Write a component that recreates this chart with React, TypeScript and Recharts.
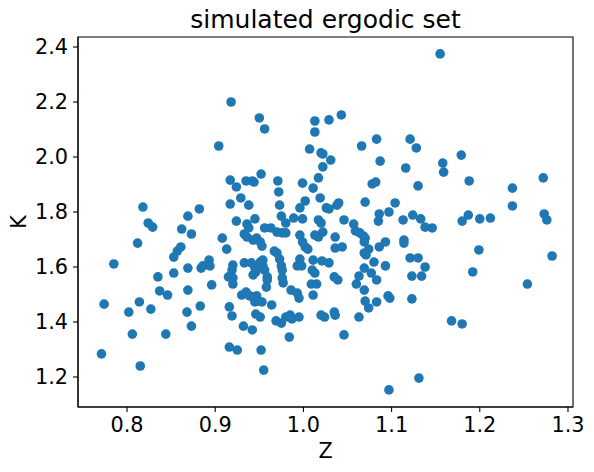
import { ScatterChart, Scatter, XAxis, YAxis, ReferenceArea } from 'recharts'

// Z values (x) of the simulated ergodic set
const zValues = [
  0.818, 0.824, 0.829, 0.812, 0.785, 0.835, 0.853, 0.853, 0.857, 0.861,
  0.862, 0.873, 0.869, 0.882, 0.869, 0.884, 0.774, 0.771, 0.802, 0.806,
  0.814, 0.815, 0.827, 0.837, 0.846, 0.844, 0.869, 0.868, 0.873, 0.883,
  0.918, 0.950, 0.956, 0.904, 1.013, 1.013, 1.007, 1.020, 1.022, 1.031,
  1.029, 1.043, 1.066, 1.083, 1.121, 1.128, 1.087, 1.155, 1.158, 1.159,
  1.179,
  1.188, 1.237, 1.272, 1.237, 1.187, 1.180, 1.200, 1.212, 1.273, 1.276,
  1.199, 1.192, 1.282, 1.254, 1.168, 1.180,
  1.131, 1.097, 1.046, 1.063, 1.123, 1.096, 1.098, 1.083, 1.074, 1.070,
  1.069, 1.060, 1.035, 1.036, 1.024, 1.039, 1.083,
  0.896, 0.920, 0.916, 0.919, 0.932, 0.942, 0.916, 0.925, 0.952, 0.955,
  0.984, 0.930, 0.935, 0.939, 0.943, 0.947, 0.949, 0.953, 0.945, 0.958,
  0.964, 0.946, 0.951, 0.969, 0.975, 0.980, 0.985, 0.987, 0.995, 0.977,
  0.986, 0.993, 0.995, 1.011, 1.009, 1.015, 1.020,
  0.917, 0.924, 0.935, 0.942, 0.944, 0.952, 0.971, 0.972, 0.973, 0.999,
  1.011, 1.017, 1.022, 0.917, 0.929, 0.938, 0.924, 0.936, 0.938, 0.945,
  0.956, 0.963, 0.970, 0.976, 0.980, 0.975, 0.980, 0.989, 0.999, 0.996,
  1.002, 1.019, 1.026, 1.017, 1.020, 1.013, 1.017, 1.022, 0.996, 0.999,
  1.002, 1.005, 1.011, 1.010, 1.021, 0.996, 0.993, 0.998, 0.908, 0.913,
  0.933, 0.936, 0.943, 0.947, 0.951, 0.953, 0.967, 0.970, 0.893, 0.886,
  0.894, 0.920, 0.919, 0.933, 0.941, 0.945, 0.946, 0.951, 0.954, 0.954,
  0.956, 0.973, 0.975, 0.976, 0.915, 0.920, 0.943, 0.959, 0.959, 0.976, 1.013,
  1.116, 1.078, 1.082, 1.130, 1.070, 1.104, 1.040, 1.029, 1.038, 1.086,
  1.085, 1.097, 1.124, 1.113, 1.133, 1.138, 1.146, 1.046, 1.057, 1.059,
  1.064, 1.068, 1.070, 1.069, 1.036, 1.036, 1.044, 1.093, 1.086, 1.114,
  1.114, 1.074, 1.069, 1.071, 1.080, 1.093, 1.121, 1.130, 1.138, 1.134,
  1.123, 1.029, 1.035, 1.069, 1.077, 1.063,
]

// K values (y), same order as zValues
const kValues = [
  1.818, 1.760, 1.745, 1.687, 1.611, 1.564, 1.578, 1.636, 1.658, 1.673,
  1.738, 1.720, 1.785, 1.811, 1.596, 1.596, 1.465, 1.284, 1.436, 1.356,
  1.473, 1.240, 1.447, 1.513, 1.498, 1.356, 1.516, 1.436, 1.385, 1.458,
  2.200, 2.142, 2.102, 2.040, 2.131, 2.091, 2.029, 2.015, 2.011, 1.989,
  2.135, 2.153, 2.040, 2.065, 2.065, 2.033, 1.985, 2.375, 1.978, 1.945,
  2.007,
  1.913, 1.887, 1.924, 1.822, 1.789, 1.767, 1.775, 1.778, 1.793, 1.771,
  1.662, 1.582, 1.640, 1.538, 1.404, 1.393,
  1.196, 1.153, 1.353, 1.418, 1.484, 1.495, 1.487, 1.473, 1.451, 1.476,
  1.516, 1.538, 1.436, 1.425, 1.418, 1.553, 1.553,
  1.535, 1.538, 1.455, 1.422, 1.385, 1.371, 1.309, 1.298, 1.298, 1.225,
  1.345, 1.498, 1.509, 1.495, 1.491, 1.495, 1.476, 1.473, 1.473, 1.527,
  1.462, 1.429, 1.418, 1.404, 1.396, 1.418, 1.425, 1.411, 1.418, 1.542,
  1.516, 1.505, 1.487, 1.498, 1.538, 1.538, 1.425,
  1.916, 1.891, 1.913, 1.913, 1.909, 1.938, 1.913, 1.873, 1.825, 1.905,
  1.887, 1.924, 1.964, 1.829, 1.851, 1.825, 1.767, 1.756, 1.742, 1.775,
  1.742, 1.742, 1.727, 1.724, 1.724, 1.785, 1.760, 1.778, 1.775, 1.815,
  1.840, 1.851, 1.815, 1.771, 1.760, 1.716, 1.709, 1.727, 1.716, 1.691,
  1.673, 1.665, 1.625, 1.589, 1.622, 1.629, 1.604, 1.604, 1.705, 1.665,
  1.720, 1.709, 1.698, 1.705, 1.691, 1.676, 1.658, 1.651, 1.625, 1.604,
  1.604, 1.607, 1.589, 1.615, 1.615, 1.596, 1.582, 1.618, 1.625, 1.604,
  1.589, 1.629, 1.604, 1.589, 1.564, 1.560, 1.571, 1.564, 1.553, 1.560, 1.578,
  1.960, 1.902, 1.909, 1.895, 1.836, 1.833, 1.833, 1.811, 1.825, 1.793,
  1.767, 1.800, 1.789, 1.771, 1.775, 1.745, 1.742, 1.771, 1.756, 1.731,
  1.724, 1.713, 1.705, 1.691, 1.709, 1.669, 1.673, 1.691, 1.673, 1.698,
  1.687, 1.665, 1.651, 1.644, 1.618, 1.604, 1.633, 1.633, 1.600, 1.567,
  1.567, 1.615, 1.564, 1.596, 1.578, 1.567,
]

const zTicks = [0.8, 0.9, 1.0, 1.1, 1.2, 1.3]
const kTicks = [1.2, 1.4, 1.6, 1.8, 2.0, 2.2, 2.4]

const zDomain: [number, number] = [0.7444, 1.3057]
const kDomain: [number, number] = [1.0909, 2.4364]

const BLUE = '#1f77b4'
const FONT = '"DejaVu Sans", sans-serif'

const Dot = (props: { cx?: number; cy?: number }) => {
  if (props.cx == null || props.cy == null) return null
  return <circle cx={props.cx} cy={props.cy} r={4.8} fill={BLUE} />
}

export default function App() {
  const points = zValues.map((z, i) => ({ z, k: kValues[i] }))
  const tickStyle = { fontSize: 20.8, fill: '#000', fontFamily: FONT }

  return (
    <div style={{ position: 'absolute', left: 0, top: 0, width: 594, height: 472, background: '#fff' }}>
      <ScatterChart width={594} height={472} margin={{ top: 37, right: 21, bottom: 0, left: 0 }}>
        <XAxis
          type="number"
          dataKey="z"
          domain={zDomain}
          ticks={zTicks}
          allowDataOverflow
          height={65}
          tickFormatter={(v: number) => v.toFixed(1)}
          tick={tickStyle}
          tickSize={5}
          tickMargin={5}
          stroke="#000"
          axisLine={{ stroke: '#000', strokeWidth: 1.1 }}
          tickLine={{ stroke: '#000', strokeWidth: 1.1 }}
        />
        <YAxis
          type="number"
          dataKey="k"
          domain={kDomain}
          ticks={kTicks}
          allowDataOverflow
          width={78}
          tickFormatter={(v: number) => v.toFixed(1)}
          tick={tickStyle}
          tickSize={5}
          tickMargin={5}
          stroke="#000"
          axisLine={{ stroke: '#000', strokeWidth: 1.1 }}
          tickLine={{ stroke: '#000', strokeWidth: 1.1 }}
        />
        <ReferenceArea
          x1={zDomain[0]}
          x2={zDomain[1]}
          y1={kDomain[0]}
          y2={kDomain[1]}
          fill="none"
          stroke="#000"
          strokeWidth={1.1}
          fillOpacity={0}
        />
        <Scatter data={points} shape={<Dot />} isAnimationActive={false} />
      </ScatterChart>
      <svg
        width={594}
        height={472}
        style={{ position: 'absolute', left: 0, top: 0, pointerEvents: 'none' }}
        fontFamily={FONT}
      >
        <text x={325.5} y={28} textAnchor="middle" fontSize={25}>
          simulated ergodic set
        </text>
        <text x={325.5} y={458} textAnchor="middle" fontSize={20.8}>
          Z
        </text>
        <text x={26} y={222} textAnchor="middle" fontSize={20.8} transform="rotate(-90 26 222)">
          K
        </text>
      </svg>
    </div>
  )
}
